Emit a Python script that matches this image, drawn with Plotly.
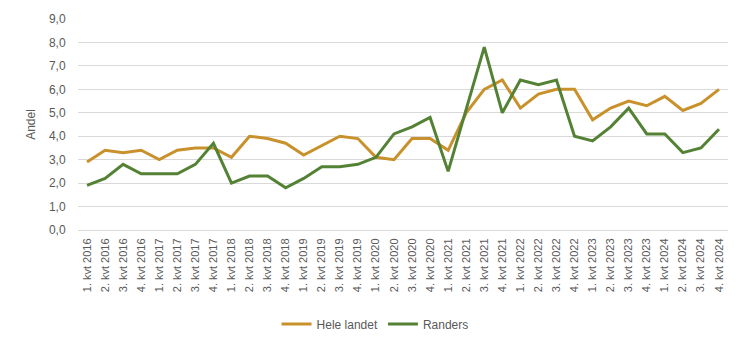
import plotly.graph_objects as go

categories = [f"{q}. kvt {y}" for y in range(2016, 2025) for q in range(1, 5)]

hele_landet = [2.9, 3.4, 3.3, 3.4, 3.0, 3.4, 3.5, 3.5,
               3.1, 4.0, 3.9, 3.7, 3.2, 3.6, 4.0, 3.9,
               3.1, 3.0, 3.9, 3.9, 3.4, 5.0, 6.0, 6.4,
               5.2, 5.8, 6.0, 6.0, 4.7, 5.2, 5.5, 5.3,
               5.7, 5.1, 5.4, 6.0]

randers = [1.9, 2.2, 2.8, 2.4, 2.4, 2.4, 2.8, 3.7,
           2.0, 2.3, 2.3, 1.8, 2.2, 2.7, 2.7, 2.8,
           3.1, 4.1, 4.4, 4.8, 2.5, 5.1, 7.8, 5.0,
           6.4, 6.2, 6.4, 4.0, 3.8, 4.4, 5.2, 4.1,
           4.1, 3.3, 3.5, 4.3]

y_ticks = [0, 1, 2, 3, 4, 5, 6, 7, 8, 9]

fig = go.Figure()
fig.add_trace(go.Scatter(x=categories, y=hele_landet, mode="lines", name="Hele landet",
                         line=dict(color="#C9912B", width=3)))
fig.add_trace(go.Scatter(x=categories, y=randers, mode="lines", name="Randers",
                         line=dict(color="#548235", width=3)))

fig.update_layout(
    width=746, height=354,
    margin=dict(l=78, r=18, t=17, b=124),
    paper_bgcolor="white", plot_bgcolor="white",
    separators=", ",
    font=dict(family="Liberation Sans, Arial, sans-serif", size=11, color="#595959"),
    showlegend=True,
    legend=dict(orientation="h", x=0.457, xanchor="center", y=-0.446, yanchor="middle",
                font=dict(size=12, color="#595959"), itemwidth=30,
                tracegroupgap=0, bgcolor="rgba(0,0,0,0)"),
    xaxis=dict(type="category", range=[-0.5, 35.5], tickangle=-90, showgrid=False,
               showline=True, linecolor="#D9D9D9", linewidth=1,
               ticks="outside", ticklen=3, tickcolor="rgba(0,0,0,0)",
               tickfont=dict(size=11, color="#595959")),
    yaxis=dict(range=[0, 9], tickvals=y_ticks, tickformat=".1f", showgrid=True,
               gridcolor="#D9D9D9", gridwidth=1, zeroline=False, showline=False,
               ticks="outside", ticklen=9, tickcolor="rgba(0,0,0,0)",
               tickfont=dict(size=12, color="#595959"),
               title=dict(text="Andel", standoff=10, font=dict(size=12, color="#595959"))),
)

fig.write_html("out.html")
